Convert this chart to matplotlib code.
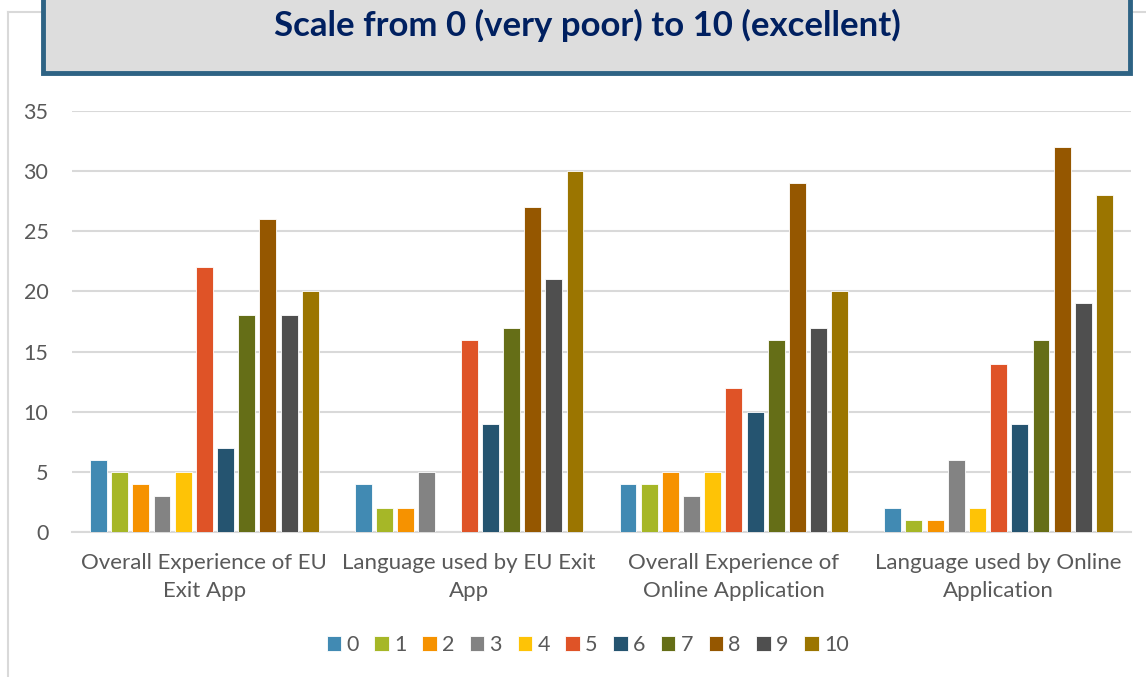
import numpy as np
import matplotlib
matplotlib.use("Agg")
import matplotlib.pyplot as plt
from matplotlib.patches import Rectangle
from matplotlib.lines import Line2D

# chart data
categories = ["Overall Experience of EU\nExit App",
              "Language used by EU Exit\nApp",
              "Overall Experience of\nOnline Application",
              "Language used by Online\nApplication"]
series_names = ["0", "1", "2", "3", "4", "5", "6", "7", "8", "9", "10"]
score_0 = [6, 4, 4, 2]
score_1 = [5, 2, 4, 1]
score_2 = [4, 2, 5, 1]
score_3 = [3, 5, 3, 6]
score_4 = [5, 0, 5, 2]
score_5 = [22, 16, 12, 14]
score_6 = [7, 9, 10, 9]
score_7 = [18, 17, 16, 16]
score_8 = [26, 27, 29, 32]
score_9 = [18, 21, 17, 19]
score_10 = [20, 30, 20, 28]
all_scores = [score_0, score_1, score_2, score_3, score_4, score_5,
              score_6, score_7, score_8, score_9, score_10]
colors = ["#418AB3", "#A6B727", "#F69200", "#838383", "#FEC306", "#DF5327",
          "#255470", "#656E17", "#955700", "#4F4F4F", "#9B7500"]
title = "Scale from 0 (very poor) to 10 (excellent)"

plt.rcParams['font.family'] = ['Lato', 'DejaVu Sans']

W, H = 1146, 677
fig = plt.figure(figsize=(W / 100, H / 100), dpi=100, facecolor='white')

# outer chart frame (left and top edges)
fig.add_artist(Line2D([8 / W, 8 / W], [0, 1 - 12 / H], transform=fig.transFigure,
                      color='#D9D9D9', lw=1.5))
fig.add_artist(Line2D([8 / W, 1], [1 - 12 / H, 1 - 12 / H], transform=fig.transFigure,
                      color='#D9D9D9', lw=1.5))

# title box
fig.add_artist(Rectangle((43 / W, 1 - 73 / H), 1087 / W, 80 / H, transform=fig.transFigure,
                         facecolor='#DDDDDD', edgecolor='#2E6384', lw=3.5, zorder=3))
fig.text(587 / W, 1 - 25 / H, title, ha='center', va='center', fontsize=25,
         fontweight='bold', color='#002060', zorder=4)

ax = fig.add_axes([72 / W, 1 - 532 / H, 1059 / W, 421 / H])

x = np.arange(len(categories))
step = 0.08
bw = 0.064
for i, (vals, name, c) in enumerate(zip(all_scores, series_names, colors)):
    offs = (i - 5) * step
    ax.bar(x + offs, vals, width=bw, color=c, edgecolor='white', lw=0.6,
           label=name, zorder=3)

ax.set_xlim(-0.5, 3.5)
ax.set_ylim(0, 35)
ax.set_yticks(range(0, 36, 5))
ax.yaxis.grid(True, color='#D9D9D9', lw=1.5, zorder=0)
ax.set_axisbelow(True)
for s in ['top', 'right', 'left']:
    ax.spines[s].set_visible(False)
ax.spines['bottom'].set_color('#D9D9D9')
ax.spines['bottom'].set_linewidth(1.5)
ax.tick_params(axis='y', length=0, labelsize=15.5, colors='#595959', pad=17)
ax.tick_params(axis='x', length=0, labelsize=16, colors='#595959', pad=15)
ax.set_xticks(x)
ax.set_xticklabels(categories, linespacing=1.5)

ax.legend(loc='center', bbox_to_anchor=(0.487, -0.268), ncol=11, frameon=False,
          fontsize=15.5, handlelength=0.67, handleheight=0.67, handletextpad=0.25,
          columnspacing=0.72, labelcolor='#595959')

fig.savefig("out.png", dpi=100)
